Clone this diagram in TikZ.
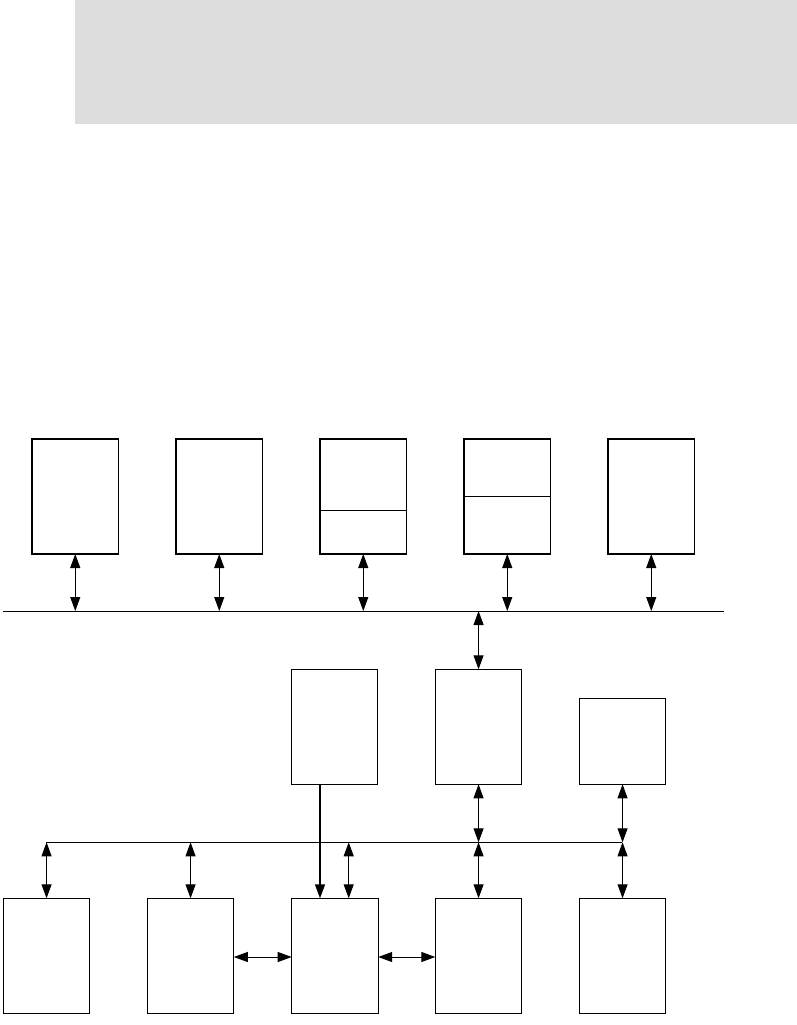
\documentclass[tikz,border=0pt]{standalone}
\usetikzlibrary{arrows.meta}
\definecolor{bandgrey}{HTML}{DCDDDC}
\begin{document}
\begin{tikzpicture}[x=1pt,y=-1pt,
  blk/.style={draw,rectangle,anchor=north west,inner sep=0pt,outer sep=0pt,
    minimum width=86.5pt,minimum height=115pt,line width=1pt},
  blkthick/.style={blk,line width=1.4pt},
  blkshort/.style={blk,minimum height=86pt},
  dbl/.style={line width=1pt,{Triangle[length=14pt,width=10pt]}-{Triangle[length=14pt,width=10pt]}},
  sgl/.style={line width=1.6pt,-{Triangle[length=14pt,width=10pt]}},
  bus/.style={line width=1pt}]
\useasboundingbox (0,0) rectangle (797,1025);
% grey band
\fill[bandgrey] (75,0) rectangle (797,123.7);
% top row
\node[blkthick] (t1) at (32,439) {};
\node[blkthick] (t2) at (176,439) {};
\node[blkthick] (t3) at (320,439) {};
\node[blkthick] (t4) at (464,439) {};
\node[blkthick] (t5) at (608,439) {};
\draw[line width=1.4pt] (t3.west |- 0,510.3) -- (t3.east |- 0,510.3);
\draw[line width=0.8pt] (t4.west |- 0,496.3) -- (t4.east |- 0,496.3);
% top bus
\coordinate (busA) at (3,611);
\coordinate (busAend) at (723.5,611);
\draw[bus] (busA) -- (busAend);
\foreach \n in {t1,t2,t3,t4,t5}{
  \draw[dbl] (\n.south) -- (\n.south |- busA);
}
% middle row
\node[blk] (m1) at (291.3,669.3) {};
\node[blk] (m2) at (435.3,669.3) {};
\node[blkshort] (m3) at (579.3,698.3) {};
\draw[dbl] (m2.north |- busA) -- (m2.north);
% lower bus
\coordinate (busB) at (46,842.3);
\coordinate (busBend) at (622.3,842.3);
\draw[bus] (busB) -- (busBend);
\draw[dbl] (m2.south) -- (m2.south |- busB);
\draw[dbl] (m3.south) -- (m3.south |- busB);
% bottom row
\node[blk] (b1) at (3.3,898.3) {};
\node[blk] (b2) at (147.3,898.3) {};
\node[blk] (b3) at (291.7,898.3) {};
\node[blk] (b4) at (435.3,898.3) {};
\node[blk] (b5) at (579.3,898.3) {};
\draw[dbl] (b1.north |- busB) -- (b1.north);
\draw[dbl] (b2.north |- busB) -- (b2.north);
\coordinate (b3tap) at (348.7,842.3);
\draw[dbl] (b3tap) -- (b3tap |- b3.north);
\draw[dbl] (b4.north |- busB) -- (b4.north);
\draw[dbl] (b5.north |- busB) -- (b5.north);
% thick line from m1 into b3
\coordinate (m1tap) at (320,784.3);
\draw[sgl] (m1tap) -- (m1tap |- b3.north);
% horizontal arrows
\draw[dbl] (b2.east |- 0,957) -- (b3.west |- 0,957);
\draw[dbl] (b3.east |- 0,957) -- (b4.west |- 0,957);
\end{tikzpicture}
\end{document}
